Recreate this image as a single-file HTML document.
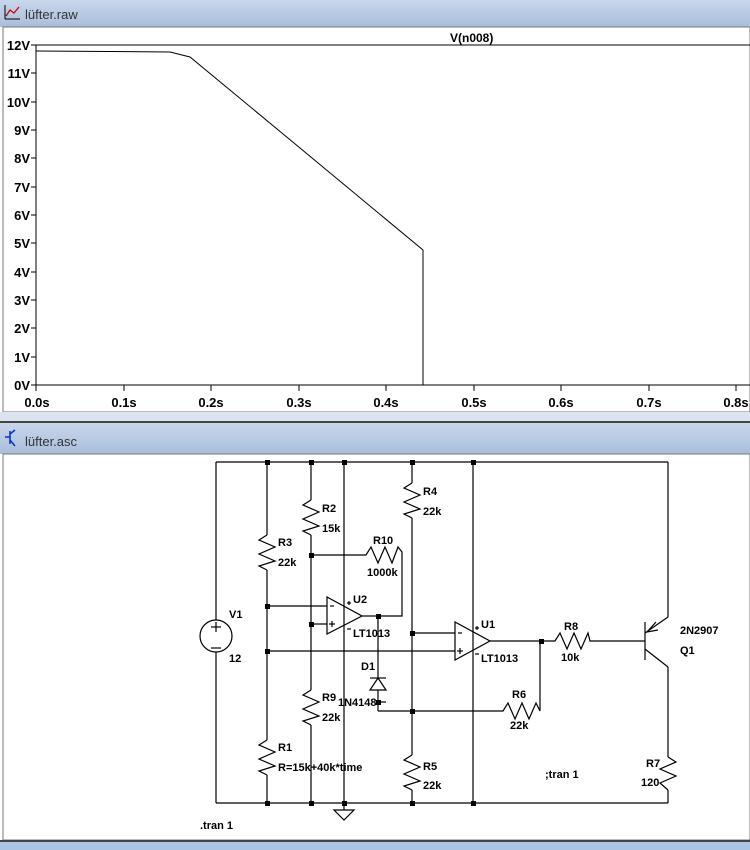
<!DOCTYPE html>
<html><head><meta charset="utf-8"><style>
body{margin:0;width:750px;height:850px;overflow:hidden;background:#fff;font-family:"Liberation Sans",sans-serif}
svg{display:block}
</style></head><body>
<svg width="750" height="850" xmlns="http://www.w3.org/2000/svg" font-family="Liberation Sans, sans-serif">
<defs><linearGradient id="tb" x1="0" y1="0" x2="0" y2="1"><stop offset="0" stop-color="#c9d6ea"/><stop offset="1" stop-color="#a9bedc"/></linearGradient></defs>
<!-- top window -->
<rect x="0" y="0" width="750" height="27" fill="url(#tb)"/>
<g stroke="#c00" stroke-width="1.3" fill="none"><polyline points="6,16 10,10 14,13 19,7"/></g>
<g stroke="#000" stroke-width="1"><line x1="5" y1="19" x2="20" y2="19"/><line x1="5" y1="5" x2="5" y2="19"/></g>
<text x="25" y="19" font-size="13" fill="#333">lüfter.raw</text>
<rect x="3" y="27" width="747" height="385" fill="#fff" stroke="#777"/>
<text x="450" y="42" font-size="12" font-weight="bold">V(n008)</text>
<g stroke="#000" fill="none" stroke-width="1">
<line x1="36" y1="45" x2="750" y2="45"/><line x1="36" y1="385" x2="750" y2="385"/><line x1="36" y1="45" x2="36" y2="385"/>
<line x1="31" y1="45" x2="36" y2="45"/><line x1="31" y1="73" x2="36" y2="73"/><line x1="31" y1="102" x2="36" y2="102"/><line x1="31" y1="130" x2="36" y2="130"/><line x1="31" y1="158" x2="36" y2="158"/><line x1="31" y1="187" x2="36" y2="187"/><line x1="31" y1="215" x2="36" y2="215"/><line x1="31" y1="243" x2="36" y2="243"/><line x1="31" y1="272" x2="36" y2="272"/><line x1="31" y1="300" x2="36" y2="300"/><line x1="31" y1="328" x2="36" y2="328"/><line x1="31" y1="357" x2="36" y2="357"/><line x1="31" y1="385" x2="36" y2="385"/>
<line x1="36" y1="385" x2="36" y2="391"/><line x1="124" y1="385" x2="124" y2="391"/><line x1="211" y1="385" x2="211" y2="391"/><line x1="299" y1="385" x2="299" y2="391"/><line x1="386" y1="385" x2="386" y2="391"/><line x1="474" y1="385" x2="474" y2="391"/><line x1="561" y1="385" x2="561" y2="391"/><line x1="649" y1="385" x2="649" y2="391"/><line x1="736" y1="385" x2="736" y2="391"/>
<polyline points="36,51 170,52 190,57 300,148 423,250 423,385 750,385"/>
</g>
<g font-size="13" font-weight="bold" text-anchor="end">
<text x="30" y="50">12V</text><text x="30" y="78">11V</text><text x="30" y="107">10V</text><text x="30" y="135">9V</text><text x="30" y="163">8V</text><text x="30" y="192">7V</text><text x="30" y="220">6V</text><text x="30" y="248">5V</text><text x="30" y="277">4V</text><text x="30" y="305">3V</text><text x="30" y="333">2V</text><text x="30" y="362">1V</text><text x="30" y="390">0V</text>
</g>
<g font-size="13" font-weight="bold" text-anchor="middle">
<text x="37" y="407">0.0s</text><text x="124" y="407">0.1s</text><text x="211" y="407">0.2s</text><text x="299" y="407">0.3s</text><text x="386" y="407">0.4s</text><text x="474" y="407">0.5s</text><text x="561" y="407">0.6s</text><text x="649" y="407">0.7s</text><text x="736" y="407">0.8s</text>
</g>
<rect x="0" y="412" width="750" height="9" fill="#dde3f0"/>
<rect x="0" y="421" width="750" height="2" fill="#444"/>
<rect x="0" y="423" width="750" height="31" fill="url(#tb)"/>
<g stroke="#0033cc" stroke-width="1.5" fill="none"><line x1="10" y1="431" x2="10" y2="444"/><line x1="5" y1="437" x2="10" y2="437"/><line x1="10" y1="434" x2="15" y2="430"/><line x1="10" y1="440" x2="15" y2="446"/></g>
<text x="25" y="446" font-size="13" fill="#333">lüfter.asc</text>
<rect x="3" y="454" width="747" height="386" fill="#fff" stroke="#777"/>
<rect x="0" y="840" width="750" height="10" fill="#a9c4e4"/>
<rect x="0" y="840" width="750" height="2" fill="#444"/>
<!-- schematic -->
<g stroke="#000" stroke-width="1.2" fill="none">
<line x1="216" y1="462" x2="668" y2="462"/><line x1="216" y1="803" x2="668" y2="803"/>
<line x1="216" y1="462" x2="216" y2="620"/><line x1="216" y1="652" x2="216" y2="803"/>
<circle cx="216" cy="636" r="16"/><line x1="211" y1="627" x2="221" y2="627"/><line x1="216" y1="622" x2="216" y2="632"/><line x1="211" y1="648" x2="221" y2="648"/>
<!-- x=267 -->
<line x1="267" y1="462" x2="267" y2="535"/><polyline points="267,535 259,540 275,547 259,554 275,561 259,566 267,570"/><line x1="267" y1="570" x2="267" y2="740"/>
<polyline points="267,740 259,745 275,752 259,759 275,766 259,771 267,775"/><line x1="267" y1="775" x2="267" y2="803"/>
<!-- x=311 -->
<line x1="311" y1="462" x2="311" y2="500"/><polyline points="311,500 303,505 319,512 303,519 319,526 303,531 311,535"/><line x1="311" y1="535" x2="311" y2="690"/>
<polyline points="311,690 303,695 319,702 303,709 319,716 303,721 311,725"/><line x1="311" y1="725" x2="311" y2="803"/>
<!-- x=344 -->
<line x1="344" y1="462" x2="344" y2="810"/><polygon points="334,810 354,810 344,820"/>
<!-- x=412 -->
<line x1="412" y1="462" x2="412" y2="483"/><polyline points="412,483 404,488 420,495 404,502 420,509 404,514 412,518"/><line x1="412" y1="518" x2="412" y2="755"/>
<polyline points="412,755 404,760 420,767 404,774 420,781 404,786 412,790"/><line x1="412" y1="790" x2="412" y2="803"/>
<line x1="473" y1="462" x2="473" y2="803"/>
<!-- R10 -->
<polyline points="311,555 366,555 371,547 378,563 385,547 392,563 398,547 402,552 402,616 378,616"/>
<!-- U2 -->
<polygon points="327,597 327,634 362,616"/>
<line x1="267" y1="606" x2="327" y2="606"/><line x1="311" y1="624" x2="327" y2="624"/><line x1="362" y1="616" x2="378" y2="616"/>
<line x1="330" y1="606" x2="334" y2="606"/><line x1="329" y1="624" x2="335" y2="624"/><line x1="332" y1="621" x2="332" y2="627"/>
<line x1="347" y1="603" x2="351" y2="603"/><line x1="349" y1="601" x2="349" y2="605"/><line x1="347" y1="629" x2="351" y2="629"/>
<!-- D1 -->
<line x1="378" y1="616" x2="378" y2="678"/><line x1="370" y1="678" x2="386" y2="678"/><polygon points="370,690 386,690 378,678"/><line x1="378" y1="690" x2="378" y2="711"/><line x1="378" y1="702" x2="386" y2="702"/>
<polyline points="378,711 503,711 508,703 515,719 522,703 529,719 536,703 540,711 540,641"/>
<!-- U1 -->
<polygon points="455,622 455,660 490,641"/>
<line x1="412" y1="633" x2="455" y2="633"/><line x1="267" y1="651" x2="455" y2="651"/>
<line x1="458" y1="633" x2="462" y2="633"/><line x1="457" y1="651" x2="463" y2="651"/><line x1="460" y1="648" x2="460" y2="654"/>
<line x1="475" y1="628" x2="479" y2="628"/><line x1="477" y1="626" x2="477" y2="630"/><line x1="475" y1="654" x2="479" y2="654"/>
<polyline points="490,641 555,641 560,633 567,649 574,633 581,649 588,633 590,641 645,641"/>
<!-- Q1 -->
<line x1="645" y1="622" x2="645" y2="660"/>
<line x1="645" y1="633" x2="668" y2="617"/><line x1="668" y1="462" x2="668" y2="617"/>
<polyline points="656,622 647,632 658,630"/>
<line x1="645" y1="649" x2="668" y2="667"/><line x1="668" y1="667" x2="668" y2="757"/>
<polyline points="668,757 676,762 660,769 676,776 660,783 668,790"/><line x1="668" y1="790" x2="668" y2="803"/>
</g>
<g fill="#000">
<rect x="265" y="460" width="5" height="5"/><rect x="309" y="460" width="5" height="5"/><rect x="342" y="460" width="5" height="5"/><rect x="410" y="460" width="5" height="5"/><rect x="471" y="460" width="5" height="5"/>
<rect x="265" y="801" width="5" height="5"/><rect x="309" y="801" width="5" height="5"/><rect x="342" y="801" width="5" height="5"/><rect x="410" y="801" width="5" height="5"/><rect x="471" y="801" width="5" height="5"/>
<rect x="265" y="604" width="5" height="5"/><rect x="265" y="649" width="5" height="5"/><rect x="309" y="553" width="5" height="5"/><rect x="309" y="622" width="5" height="5"/>
<rect x="376" y="614" width="5" height="5"/><rect x="376" y="700" width="5" height="5"/><rect x="410" y="631" width="5" height="5"/><rect x="410" y="709" width="5" height="5"/><rect x="539" y="639" width="5" height="5"/>
</g>
<g font-size="11" font-weight="bold">
<text x="229" y="618">V1</text><text x="229" y="662">12</text>
<text x="278" y="546">R3</text><text x="278" y="566">22k</text>
<text x="278" y="751">R1</text><text x="278" y="771">R=15k+40k*time</text>
<text x="322" y="512">R2</text><text x="322" y="532">15k</text>
<text x="322" y="701">R9</text><text x="322" y="721">22k</text>
<text x="423" y="495">R4</text><text x="423" y="515">22k</text>
<text x="423" y="770">R5</text><text x="423" y="789">22k</text>
<text x="373" y="544">R10</text><text x="367" y="576">1000k</text>
<text x="353" y="603">U2</text><text x="353" y="637">LT1013</text>
<text x="361" y="670">D1</text><text x="338" y="706">1N4148</text>
<text x="481" y="628">U1</text><text x="481" y="662">LT1013</text>
<text x="512" y="698">R6</text><text x="510" y="729">22k</text>
<text x="564" y="630">R8</text><text x="561" y="661">10k</text>
<text x="680" y="634">2N2907</text><text x="680" y="654">Q1</text>
<text x="646" y="767">R7</text><text x="641" y="786">120</text>
<text x="545" y="778">;tran 1</text>
<text x="200" y="829">.tran 1</text>
</g>
</svg>
</body></html>
